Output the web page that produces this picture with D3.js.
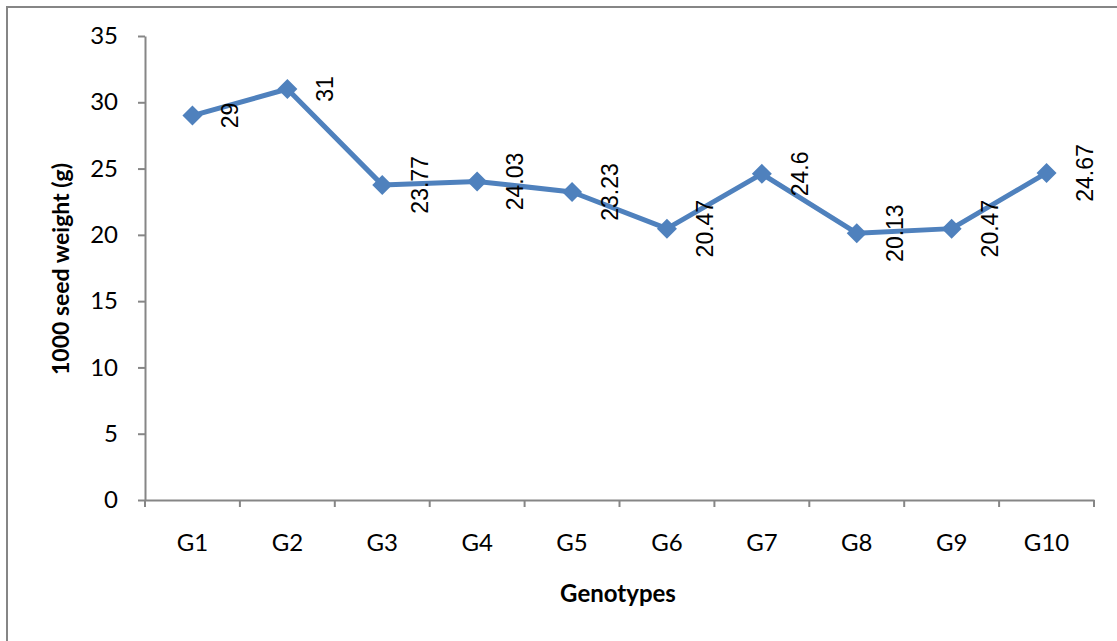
<!DOCTYPE html>
<html>
<head>
<meta charset="utf-8">
<script src="https://cdn.jsdelivr.net/npm/d3@7"></script>
<style>
  html, body { margin: 0; padding: 0; background: #fff; }
  svg { display: block; }
</style>
</head>
<body>
<svg id="chart" width="1117" height="641"></svg>
<script>
// Genotype categories and mean 1000-seed weight (g)
const genotypes = ["G1", "G2", "G3", "G4", "G5", "G6", "G7", "G8", "G9", "G10"];
const seedWeight = [29, 31, 23.77, 24.03, 23.23, 20.47, 24.6, 20.13, 20.47, 24.67];
const yTicks = [0, 5, 10, 15, 20, 25, 30, 35];

const data = genotypes.map((g, i) => ({ g, v: seedWeight[i] }));

const W = 1117, H = 641;
const plot = { left: 145, right: 1094, top: 36, bottom: 500 };
const lineColor = "#4F81BD";
const axisColor = "#868686";
const uiFont = "Lato, 'Open Sans', sans-serif";

const svg = d3.select("#chart");

// outer chart frame
svg.append("rect")
  .attr("x", 7).attr("y", 7)
  .attr("width", W + 20).attr("height", H + 20)
  .attr("fill", "#fff")
  .attr("stroke", axisColor).attr("stroke-width", 2);

const x = d3.scaleBand().domain(genotypes).range([plot.left, plot.right]).padding(0);
const y = d3.scaleLinear().domain([0, 35]).range([plot.bottom, plot.top]);

// y axis
const yAxis = svg.append("g")
  .attr("transform", `translate(${plot.left},0)`)
  .call(d3.axisLeft(y).tickValues(yTicks).tickSize(7).tickPadding(20).tickSizeOuter(0));
yAxis.select(".domain").attr("stroke", axisColor).attr("stroke-width", 2);
yAxis.selectAll(".tick line").attr("stroke", axisColor).attr("stroke-width", 2);
yAxis.selectAll(".tick text")
  .attr("font-family", uiFont)
  .attr("font-size", 24).attr("fill", "#000");

// x axis: baseline with tick marks at category boundaries
const xAxis = svg.append("g")
  .attr("transform", `translate(0,${plot.bottom})`)
  .call(d3.axisBottom(x).tickSize(0).tickPadding(34).tickSizeOuter(0));
xAxis.select(".domain").attr("stroke", axisColor).attr("stroke-width", 2);
xAxis.selectAll(".tick text")
  .attr("font-family", uiFont)
  .attr("font-size", 24).attr("fill", "#000");
const boundaries = genotypes.map(g => x(g)).concat([x(genotypes[genotypes.length - 1]) + x.bandwidth()]);
xAxis.selectAll(".bound")
  .data(boundaries)
  .enter().append("line")
  .attr("class", "bound")
  .attr("x1", d => d).attr("x2", d => d)
  .attr("y1", 0).attr("y2", 7)
  .attr("stroke", axisColor).attr("stroke-width", 2);

// axis titles
svg.append("text")
  .attr("transform", `translate(60,${(plot.top + plot.bottom) / 2 + 1}) rotate(-90)`)
  .attr("text-anchor", "middle")
  .attr("dominant-baseline", "central")
  .attr("font-family", uiFont)
  .attr("font-weight", "bold")
  .attr("font-size", 23)
  .text("1000 seed weight (g)");

svg.append("text")
  .attr("x", 618)
  .attr("y", 602)
  .attr("text-anchor", "middle")
  .attr("font-family", uiFont)
  .attr("font-weight", "bold")
  .attr("font-size", 24)
  .text("Genotypes");

const cx = d => x(d.g) + x.bandwidth() / 2;

// series line
svg.append("path")
  .datum(data)
  .attr("fill", "none")
  .attr("stroke", lineColor)
  .attr("stroke-width", 5)
  .attr("stroke-linejoin", "round")
  .attr("d", d3.line().x(cx).y(d => y(d.v)));

// diamond markers
svg.selectAll(".marker")
  .data(data)
  .enter().append("path")
  .attr("class", "marker")
  .attr("transform", d => `translate(${cx(d)},${y(d.v)}) rotate(45)`)
  .attr("d", d3.symbol().type(d3.symbolSquare).size(200))
  .attr("fill", lineColor);

// rotated value labels to the right of each point
svg.selectAll(".vlabel")
  .data(data)
  .enter().append("text")
  .attr("class", "vlabel")
  .attr("transform", d => `translate(${cx(d) + 38},${y(d.v)}) rotate(-90)`)
  .attr("text-anchor", "middle")
  .attr("dominant-baseline", "central")
  .attr("font-family", "'Liberation Sans', Arial, sans-serif")
  .attr("font-size", 23)
  .attr("fill", "#000")
  .text(d => d.v);
</script>
</body>
</html>
